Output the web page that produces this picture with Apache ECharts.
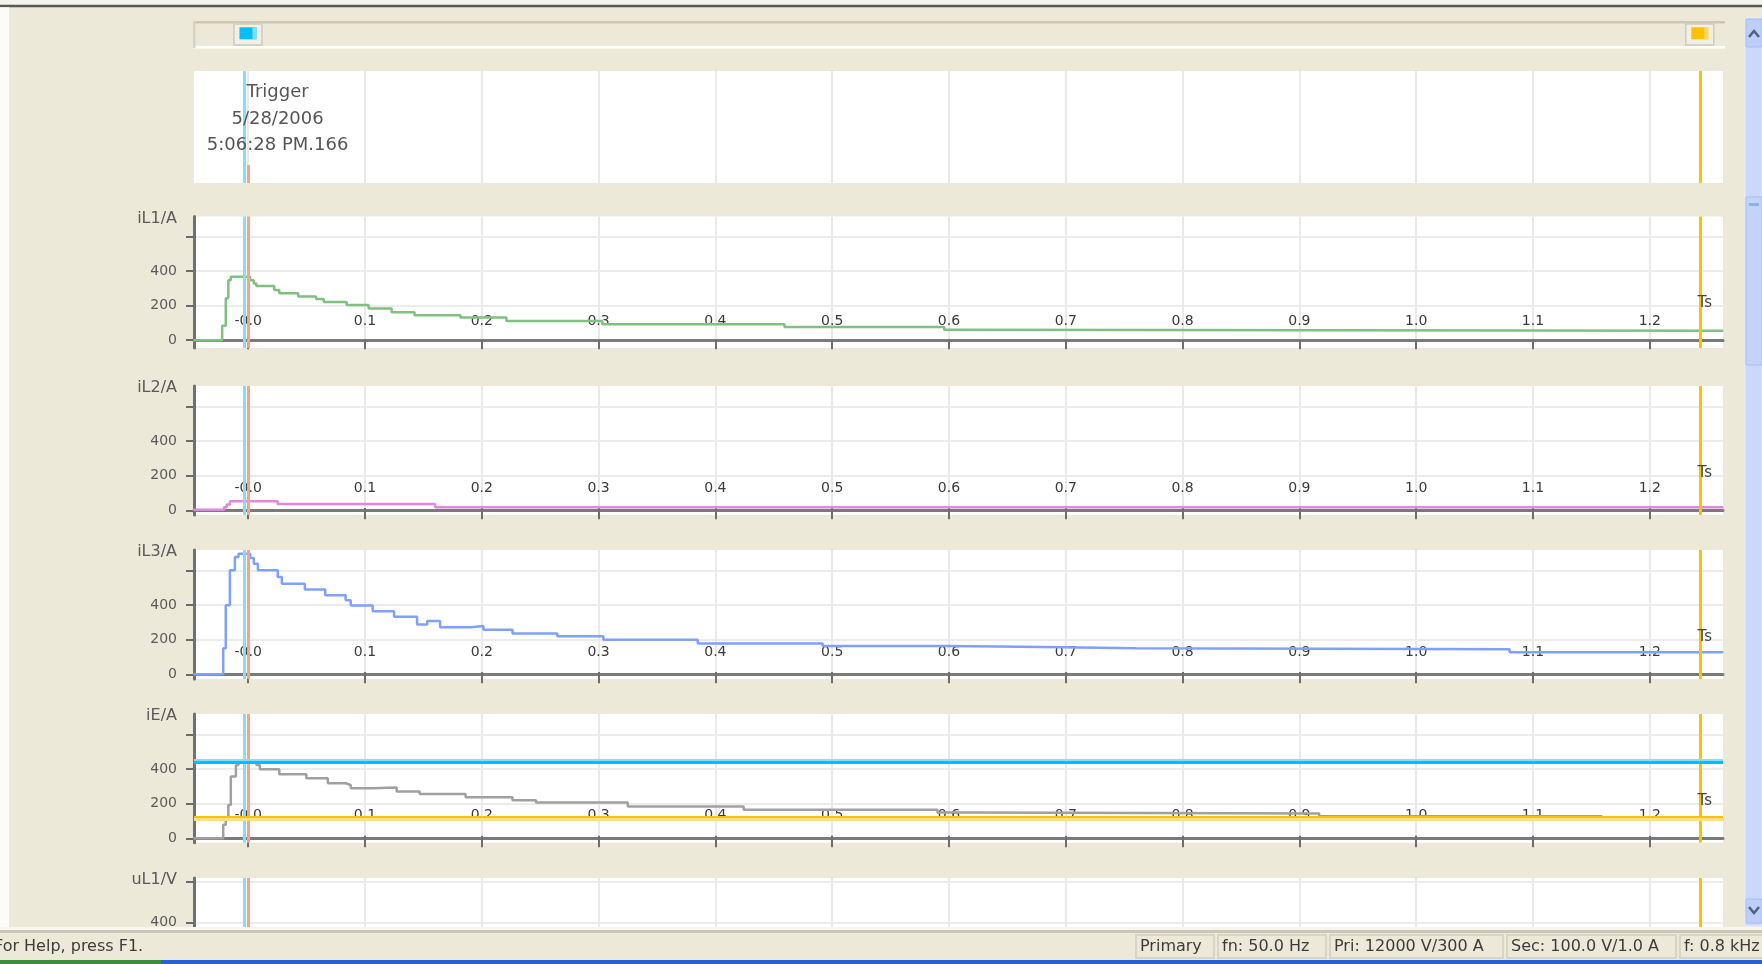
<!DOCTYPE html>
<html>
<head>
<meta charset="utf-8">
<title>Fault record</title>
<script src="https://cdn.jsdelivr.net/npm/echarts@6/dist/echarts.min.js"></script>
<style>
html, body { margin: 0; padding: 0; background: #ece9d8; }
#main { width: 1762px; height: 964px; }
</style>
</head>
<body>
<div id="main"></div>
<script>
// ---- data ----
var channelNames = ['iL1/A', 'iL2/A', 'iL3/A', 'iE/A', 'uL1/V'];

var xTickValues = [0, 0.1, 0.2, 0.3, 0.4, 0.5, 0.6, 0.7, 0.8, 0.9, 1.0, 1.1, 1.2];
var xTickLabels = ['-0.0', '0.1', '0.2', '0.3', '0.4', '0.5', '0.6', '0.7', '0.8', '0.9', '1.0', '1.1', '1.2'];
var yTickValues = [0, 200, 400, 600];
var yLabelValues = [0, 200, 400];
var uTickValues = [400, 600];
var uLabelValues = [400];

var il1Time = [-0.047, -0.0223, -0.0192, -0.0170, -0.0149, 0.0017, 0.0048, 0.0070, 0.0223, 0.0266, 0.0428, 0.0581, 0.0647, 0.0843, 0.1031, 0.1228, 0.1424, 0.1817, 0.2211, 0.3032, 0.4592, 0.5959, 0.6011, 1.263];
var il1Value = [0, 83, 242, 347, 367, 347, 328, 313, 290, 271, 253, 238, 221, 204, 184, 161, 144, 131, 111, 92, 77, 60, 55, 55];
var il1DarkSpans = [[0.0266, 0.0428], [0.1031, 0.1228], [0.4592, 0.5959]];

var il2Time = [-0.047, -0.0207, -0.0184, -0.0156, 0.0252, 0.160, 1.263];
var il2Value = [3, 18, 33, 53, 36, 18, 18];
var il2DarkSpans = [[-0.021, -0.0184], [0.160, 1.263]];

var il3Time = [-0.047, -0.0214, -0.0192, -0.0157, -0.0114, -0.0083, 0.0017, 0.0048, 0.0083, 0.0253, 0.0288, 0.0485, 0.0660, 0.0834, 0.0878, 0.1066, 0.1249, 0.1446, 0.1533, 0.1643, 0.1905, 0.2014, 0.2263, 0.2647, 0.3041, 0.3849, 0.4919, 0.60, 0.68, 0.76, 1.08, 1.263];
var il3Value = [0, 150, 399, 600, 677, 696, 671, 638, 600, 562, 523, 489, 456, 427, 397, 364, 332, 288, 307, 272, 278, 257, 236, 220, 199, 178, 163, 157, 150, 145, 127, 127];
var il3DarkSpans = [[-0.0165, -0.0150], [0.1249, 0.1446], [0.2647, 0.3041], [1.08, 1.263]];

var ieTime = [-0.047, -0.0214, -0.0192, -0.0170, -0.0149, -0.0105, -0.0083, 0.0070, 0.0100, 0.0266, 0.0498, 0.0682, 0.0834, 0.0878, 0.1066, 0.1271, 0.1468, 0.1861, 0.2263, 0.2464, 0.3250, 0.4242, 0.5902, 0.6186, 0.917, 1.159, 1.263];
var ieValue = [0, 78, 117, 193, 356, 423, 440, 423, 398, 369, 346, 318, 308, 289, 293, 270, 256, 237, 220, 207, 184, 165, 149, 144, 128, 110, 110];
var ieDarkSpans = [[-0.0155, -0.0140], [0.2263, 0.2464]];
var ieBlueSpans = [[0.917, 1.159]];
var ieFaintSpans = [[1.159, 1.263]];

var cursorTimes = [-0.0031, 1.2428];   // trigger cursor, second cursor
var refTime = -0.0002;
var ieCursorValues = [445, 116];
var cursorLabel = 'Ts';
var triggerText = ['Trigger', '5/28/2006', '5:06:28 PM.166'];
var statusTexts = ['For Help, press F1.', 'Primary', 'fn: 50.0 Hz', 'Pri: 12000 V/300 A', 'Sec: 100.0 V/1.0 A', 'f: 0.8 kHz'];

// ---- layout ----
var FONT = 'DejaVu Sans';
var xMin = -0.0464, xMax = 1.2627;
var panels = [
  {top: 216.5, height: 131.5, min: -45, max: 715},
  {top: 386, height: 129, min: -27, max: 718},
  {top: 550, height: 129, min: -27, max: 717},
  {top: 714, height: 128.7, min: -25, max: 717},
  {top: 878, height: 60, min: 325, max: 620}
];
var channels = [
  {time: il1Time, value: il1Value, color: '#80c080', groups: [{spans: il1DarkSpans, color: '#008000'}]},
  {time: il2Time, value: il2Value, color: '#e088e0', groups: [{spans: il2DarkSpans, color: '#c000c0'}]},
  {time: il3Time, value: il3Value, color: '#80a0ff', groups: [{spans: il3DarkSpans, color: '#0040ff'}]},
  {time: ieTime, value: ieValue, color: '#a0a0a0', groups: [
    {spans: ieDarkSpans, color: '#404040'},
    {spans: ieBlueSpans, color: '#4a86c8'},
    {spans: ieFaintSpans, color: '#a8bcd8'}]}
];

function colorPieces(base, groups) {
  var marks = [];
  groups.forEach(function (g) {
    g.spans.forEach(function (s) { marks.push([s[0], s[1], g.color]); });
  });
  marks.sort(function (a, b) { return a[0] - b[0]; });
  var pieces = [], cur = -10;
  marks.forEach(function (m) {
    if (m[0] > cur) pieces.push({gte: cur, lt: m[0], color: base});
    pieces.push({gte: m[0], lt: m[1], color: m[2]});
    cur = m[1];
  });
  pieces.push({gte: cur, lt: 10, color: base});
  return pieces;
}

function xLabel(v) {
  for (var i = 0; i < xTickValues.length; i++) {
    if (Math.abs(xTickValues[i] - v) < 1e-6) return xTickLabels[i];
  }
  return '';
}

var chart = echarts.init(document.getElementById('main'));

var grids = [], xAxes = [], yAxes = [], series = [], visualMaps = [];

// trigger panel
grids.push({left: 194, right: 39, top: 71, height: 112, show: true, backgroundColor: '#fff', borderWidth: 0});
panels.forEach(function (p) {
  grids.push({left: 194, right: 39, top: p.top, height: p.height, show: true, backgroundColor: '#fff', borderWidth: 0});
});

function plainX(gi) {
  return {
    type: 'value', gridIndex: gi, min: xMin, max: xMax, position: 'bottom',
    axisLine: {show: false},
    axisTick: {show: false, customValues: xTickValues},
    axisLabel: {show: false, customValues: xTickValues},
    splitLine: {show: true, lineStyle: {color: '#e9e9e9', width: 2}}
  };
}

// grid 0: trigger strip
xAxes.push(plainX(0));
yAxes.push({type: 'value', gridIndex: 0, min: 0, max: 1, show: false});
series.push({
  type: 'line', xAxisIndex: 0, yAxisIndex: 0, data: [], z: 1, silent: true, animation: false,
  markLine: {
    symbol: ['none', 'none'], silent: true, animation: false, precision: 6, label: {show: false},
    data: [
      [{coord: [refTime, 0], lineStyle: {color: '#ffa080', width: 3, type: 'solid'}}, {coord: [refTime, 0.16]}],
      {xAxis: cursorTimes[0], lineStyle: {color: '#7fdfff', width: 3, type: 'solid'}},
      {xAxis: cursorTimes[1], lineStyle: {color: '#ffc000', width: 3, type: 'solid'}}
    ]
  }
});

var axisMap = [];
panels.forEach(function (p, i) {
  var gi = i + 1;
  var isVolt = (i === 4);
  var xi = xAxes.length;
  if (isVolt) {
    xAxes.push(plainX(gi));
  } else {
    var ax = plainX(gi);
    ax.axisLine = {show: true, onZero: true, lineStyle: {color: '#7a7a7a', width: 3}};
    ax.axisTick = {show: true, length: 9, customValues: xTickValues, lineStyle: {color: '#6e6e6e', width: 2}};
    ax.axisLabel = {show: true, inside: true, margin: 20, customValues: xTickValues, formatter: xLabel,
      fontFamily: FONT, fontSize: 14, color: '#3a3a3a'};
    xAxes.push(ax);
    // inner half of the crossing ticks
    xAxes.push({
      type: 'value', gridIndex: gi, min: xMin, max: xMax, position: 'bottom',
      axisLine: {show: true, onZero: true, lineStyle: {opacity: 0}},
      axisTick: {show: true, inside: true, length: 7, customValues: xTickValues, lineStyle: {color: '#6e6e6e', width: 2}},
      axisLabel: {show: false}, splitLine: {show: false}
    });
  }
  var yi = yAxes.length;
  yAxes.push({
    type: 'value', gridIndex: gi, min: p.min, max: p.max,
    name: channelNames[i], nameLocation: 'end', nameGap: -2,
    nameTextStyle: {align: 'right', verticalAlign: 'middle', padding: [0, 17, 0, 0], fontFamily: FONT, fontSize: 16, color: '#5a5a5a'},
    axisLine: {show: true, onZero: false, lineStyle: {color: '#707070', width: 3}},
    axisTick: {show: true, length: 8, customValues: isVolt ? uTickValues : yTickValues, lineStyle: {color: '#6a6a6a', width: 2}},
    axisLabel: {show: true, margin: 17, customValues: isVolt ? uLabelValues : yLabelValues, fontFamily: FONT, fontSize: 14, color: '#5a5a5a'},
    splitLine: {show: true, lineStyle: {color: '#ececec', width: 2}}
  });
  axisMap.push([xi, yi]);

  var lines = [
    {xAxis: refTime, lineStyle: {color: '#ffa080', width: 3, type: 'solid'}},
    {xAxis: cursorTimes[0], lineStyle: {color: '#7fdfff', width: 3, type: 'solid'}},
    {xAxis: cursorTimes[1], lineStyle: {color: '#ffc000', width: 3, type: 'solid'}}
  ];
  if (i === 3) {
    var off = 8;
    lines.push({yAxis: ieCursorValues[0] + off, lineStyle: {color: '#80e0ff', width: 3, type: 'solid'}});
    lines.push({yAxis: ieCursorValues[0] - off, lineStyle: {color: '#00bfff', width: 3, type: 'solid'}});
    lines.push({yAxis: ieCursorValues[1] + off, lineStyle: {color: '#ffc000', width: 3, type: 'solid'}});
    lines.push({yAxis: ieCursorValues[1] - off, lineStyle: {color: '#ffe080', width: 3, type: 'solid'}});
  }
  var helper = {
    type: 'line', xAxisIndex: xi, yAxisIndex: yi, data: [], z: 1, silent: true, animation: false,
    markLine: {symbol: ['none', 'none'], silent: true, animation: false, precision: 6, label: {show: false}, data: lines}
  };
  if (!isVolt) {
    helper.markPoint = {
      silent: true, animation: false,
      data: [{coord: [cursorTimes[1], 0], symbol: 'circle', symbolSize: 1, itemStyle: {color: 'rgba(0,0,0,0)'},
        label: {show: true, formatter: cursorLabel, position: 'inside', offset: [5, -37],
          fontFamily: FONT, fontSize: 15, color: '#444'}}]
    };
  }
  series.push(helper);
});

channels.forEach(function (c, i) {
  var pts = c.time.map(function (t, k) { return [t, c.value[k]]; });
  var si = series.length;
  series.push({
    type: 'line', name: channelNames[i], xAxisIndex: axisMap[i][0], yAxisIndex: axisMap[i][1],
    data: pts, step: 'end', symbol: 'none', z: 3, animation: false, silent: true,
    lineStyle: {width: 2.5, color: c.color}
  });
  visualMaps.push({
    type: 'piecewise', show: false, seriesIndex: si, dimension: 0,
    pieces: colorPieces(c.color, c.groups)
  });
});

chart.setOption({
  backgroundColor: '#ece9d8',
  animation: false,
  grid: grids,
  xAxis: xAxes,
  yAxis: yAxes,
  visualMap: visualMaps,
  series: series
});

// window chrome, cursor handles and trigger text
var pxTrig = chart.convertToPixel({xAxisIndex: 0}, cursorTimes[0]);
var pxRef = chart.convertToPixel({xAxisIndex: 0}, refTime);
var pxSecond = chart.convertToPixel({xAxisIndex: 0}, cursorTimes[1]);

function rect(x, y, w, h, fill, extra) {
  var r = {type: 'rect', shape: {x: x, y: y, width: w, height: h}, style: {fill: fill}, silent: true, z: 50};
  if (extra) for (var k in extra) r[k] = extra[k];
  return r;
}
function handle(cx, color, light) {
  return [
    rect(cx - 14, 24, 28, 21, '#f2f0e6', {style: {fill: '#f2f0e6', stroke: '#cfcbb8', lineWidth: 1.5}}),
    rect(cx - 8.5, 27.3, 17, 12, color),
    rect(cx + 4.5, 27.3, 4, 12, light)
  ];
}

var g = [];
g.push(rect(0, 0, 1762, 5, '#f3f2ec'));
g.push(rect(0, 4.7, 1762, 2.6, '#5b584c'));
g.push(rect(0, 7.3, 9, 920, '#fbfbf8'));
// slider trough
g.push(rect(193, 21, 1532, 27, '#ece9d8'));
g.push(rect(193, 21, 1532, 2.5, '#cbc7b4'));
g.push(rect(193, 46, 1532, 2.5, '#ffffff'));
g.push(rect(193, 21, 2.5, 27, '#d8d4c4'));
g = g.concat(handle(pxRef, '#00bfff', '#80dfff'));
g = g.concat(handle(pxSecond, '#ffc000', '#ffd860'));
// scrollbar
g.push(rect(1745, 18, 17, 908, '#c9d8fb', {style: {fill: '#c9d8fb', stroke: '#e6edfd', lineWidth: 1}}));
g.push(rect(1746, 19, 16, 28, '#bccffa', {style: {fill: '#bccffa', stroke: '#a8bef3', lineWidth: 1}}));
g.push({type: 'polyline', shape: {points: [[1749, 37], [1754, 31], [1759, 37]]}, style: {stroke: '#4d6185', lineWidth: 2.5, fill: null}, silent: true, z: 51});
g.push(rect(1746, 197, 16, 168, '#c3d4fb', {style: {fill: '#c3d4fb', stroke: '#a6bdf4', lineWidth: 1}}));
g.push(rect(1749, 203, 10, 3, '#8fb0f0'));
g.push(rect(1746, 899, 16, 24, '#bccffa', {style: {fill: '#bccffa', stroke: '#a8bef3', lineWidth: 1}}));
g.push({type: 'polyline', shape: {points: [[1749, 907], [1754, 913], [1759, 907]]}, style: {stroke: '#4d6185', lineWidth: 2.5, fill: null}, silent: true, z: 51});
// trigger text
g.push({type: 'text', x: pxTrig + 33, y: 119, silent: true, z: 60,
  style: {text: triggerText.join('\n'), fontFamily: FONT, fontSize: 18, lineHeight: 26.5, fill: '#555',
    align: 'center', verticalAlign: 'middle'}});
// status bar
g.push(rect(0, 927, 1762, 37, '#ece9d8', {z: 100}));
g.push(rect(0, 927, 1762, 3, '#f6f5ef', {z: 101}));
g.push(rect(0, 930, 1762, 3, '#cbc7b4', {z: 101}));
var boxes = [[1136, 1214], [1218, 1326], [1330, 1503], [1507, 1676], [1680, 1790]];
boxes.forEach(function (b) {
  g.push(rect(b[0], 935, b[1] - b[0], 23, 'rgba(0,0,0,0)', {z: 101,
    style: {fill: 'rgba(0,0,0,0)', stroke: '#d2cebd', lineWidth: 1.5}}));
});
g.push({type: 'text', x: -6, y: 947, z: 102, silent: true,
  style: {text: statusTexts[0], fontFamily: FONT, fontSize: 16, fill: '#3c3c3c', verticalAlign: 'middle'}});
boxes.forEach(function (b, k) {
  g.push({type: 'text', x: b[0] + 4, y: 947, z: 102, silent: true,
    style: {text: statusTexts[k + 1], fontFamily: FONT, fontSize: 16, fill: '#3c3c3c', verticalAlign: 'middle'}});
});
g.push(rect(0, 960, 1762, 4, '#2a5fd6', {z: 103}));
g.push(rect(0, 960, 161, 4, '#3b8c3b', {z: 104}));

chart.setOption({graphic: g});
</script>
</body>
</html>
